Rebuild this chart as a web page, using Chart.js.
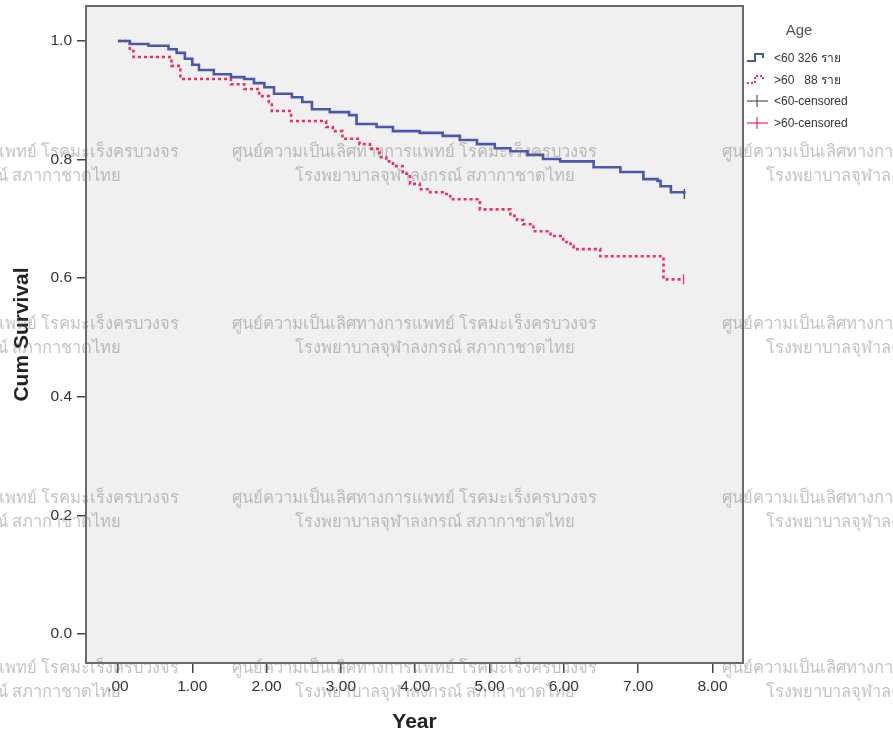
<!DOCTYPE html>
<html>
<head>
<meta charset="utf-8">
<script src="https://cdn.jsdelivr.net/npm/chart.js@4.4.1/dist/chart.umd.min.js"></script>
<style>
  html, body { margin: 0; padding: 0; background: #fff; }
  #wrap { position: relative; width: 893px; height: 737px; overflow: hidden; }
  #c { position: absolute; left: 0; top: 0; }
  .legend { position: absolute; left: 746px; top: 21px; font-family: "Liberation Sans", Arial, sans-serif; font-size: 12px; color: #333; }
  .legend .ttl { text-align: center; font-size: 15px; width: 102px; margin-left: 2px; margin-bottom: 8px; color: #555; }
  .legend .row { display: flex; align-items: center; height: 22px; white-space: pre; }
  .legend svg { margin-right: 2px; }
  .wm { position: absolute; font-family: "Noto Sans", "DejaVu Sans", sans-serif; font-size: 16.5px; color: rgba(110,110,110,.42); white-space: nowrap; pointer-events: none; }
</style>
</head>
<body>
<div id="wrap">
  <canvas id="c" width="893" height="737"></canvas>
  <div class="legend">
    <div class="ttl">Age</div>
    <div class="row"><svg width="26" height="14"><polyline points="1,11 9,11 9,4 17,4 17,8" fill="none" stroke="#4b56ad" stroke-width="2"/></svg>&lt;60 326 ราย</div>
    <div class="row"><svg width="26" height="14"><polyline points="1,11 9,11 9,4 17,4 17,8" fill="none" stroke="#ef2d5e" stroke-width="2" stroke-dasharray="2,2"/></svg>&gt;60   88 ราย</div>
    <div class="row"><svg width="26" height="14"><line x1="1" y1="7" x2="22" y2="7" stroke="#555" stroke-width="1.2"/><line x1="11" y1="1" x2="11" y2="13" stroke="#555" stroke-width="1.2"/></svg>&lt;60-censored</div>
    <div class="row"><svg width="26" height="14"><line x1="1" y1="7" x2="22" y2="7" stroke="#ef2d5e" stroke-width="1.2"/><line x1="11" y1="1" x2="11" y2="13" stroke="#ef2d5e" stroke-width="1.2"/></svg>&gt;60-censored</div>
  </div>
</div>
<script>
/* ===== Kaplan-Meier: Age ===== */

// <60 group (event time in years, survival after event)
const youngTime = [0, 0.16, 0.41, 0.68, 0.79, 0.90, 1.00, 1.09, 1.29, 1.52, 1.70, 1.83, 1.97, 2.10, 2.34, 2.48, 2.61, 2.85, 3.11, 3.21, 3.48, 3.70, 4.06, 4.37, 4.60, 4.83, 5.07, 5.28, 5.51, 5.72, 5.95, 6.40, 6.76, 7.07, 7.26, 7.30, 7.44, 7.62];
const youngSurv = [1.0, 0.995, 0.992, 0.986, 0.980, 0.970, 0.960, 0.951, 0.944, 0.939, 0.936, 0.929, 0.922, 0.911, 0.905, 0.897, 0.885, 0.880, 0.875, 0.860, 0.855, 0.848, 0.845, 0.840, 0.833, 0.826, 0.819, 0.814, 0.808, 0.801, 0.797, 0.787, 0.779, 0.767, 0.764, 0.755, 0.745, 0.742];

// >60 group
const oldTime = [0, 0.16, 0.21, 0.72, 0.84, 1.52, 1.70, 1.90, 2.03, 2.07, 2.33, 2.80, 2.89, 3.02, 3.25, 3.39, 3.52, 3.61, 3.70, 3.83, 3.93, 4.06, 4.20, 4.37, 4.47, 4.87, 5.28, 5.37, 5.45, 5.59, 5.82, 5.99, 6.09, 6.13, 6.49, 7.34, 7.61];
const oldSurv = [1.0, 0.983, 0.973, 0.958, 0.936, 0.927, 0.919, 0.907, 0.897, 0.882, 0.865, 0.855, 0.848, 0.835, 0.826, 0.818, 0.804, 0.797, 0.789, 0.776, 0.759, 0.750, 0.745, 0.742, 0.733, 0.716, 0.705, 0.698, 0.691, 0.679, 0.671, 0.661, 0.654, 0.649, 0.637, 0.598, 0.598];

// censored marks
const youngCensT = [7.62];
const youngCensS = [0.742];
const oldCensT = [7.61];
const oldCensS = [0.598];

const xTicks = [0, 1, 2, 3, 4, 5, 6, 7, 8];
const yTicks = [0, 0.2, 0.4, 0.6, 0.8, 1.0];

const BLUE = '#4b56ad';
const RED = '#ef2d5e';
const pts = (xs, ys) => xs.map((x, i) => ({ x, y: ys[i] }));

/* 背景と枠 */
const frame = {
  id: 'frame',
  beforeDraw(ch) {
    const a = ch.chartArea, c = ch.ctx;
    c.save();
    c.fillStyle = '#f0f0f0';
    c.fillRect(a.left, a.top, a.right - a.left, a.bottom - a.top);
    c.restore();
  },
  afterDatasetsDraw(ch) {
    const a = ch.chartArea, c = ch.ctx;
    c.save();
    c.strokeStyle = '#6a6a6a';
    c.lineWidth = 2;
    c.strokeRect(a.left, a.top, a.right - a.left, a.bottom - a.top);
    c.restore();
  },
};

const FAM = 'Liberation Sans, Arial, sans-serif';
const tickFont = { family: FAM, size: 15.5 };
const titleFont = { family: FAM, size: 21, weight: 'bold' };

new Chart(document.getElementById('c'), {
  type: 'line',
  data: {
    datasets: [
      { label: '<60 326 ราย', data: pts(youngTime, youngSurv), borderColor: BLUE, borderWidth: 2.6, stepped: 'before', pointRadius: 0, fill: false },
      { label: '>60  88 ราย', data: pts(oldTime, oldSurv), borderColor: RED, borderWidth: 2.6, borderDash: [3, 3], stepped: 'before', pointRadius: 0, fill: false },
      { label: '<60-censored', data: pts(youngCensT, youngCensS), showLine: false, pointStyle: 'line', rotation: 90, pointRadius: 5, borderColor: '#333', borderWidth: 1.2 },
      { label: '>60-censored', data: pts(oldCensT, oldCensS), showLine: false, pointStyle: 'line', rotation: 90, pointRadius: 5, borderColor: RED, borderWidth: 1.2 },
    ],
  },
  options: {
    responsive: false,
    animation: false,
    devicePixelRatio: 1,
    layout: { autoPadding: false, padding: { top: 6, right: 150, left: 0, bottom: 0 } },
    plugins: { legend: { display: false }, tooltip: { enabled: false } },
    scales: {
      x: {
        type: 'linear', min: -0.43, max: 8.41,
        afterBuildTicks: s => { s.ticks = xTicks.map(v => ({ value: v })); },
        afterFit: s => { s.height = 74; s.paddingLeft = 0; s.paddingRight = 0; },
        grid: { drawOnChartArea: false, tickLength: 10, tickColor: '#444', lineWidth: 1.5 },
        border: { display: false },
        ticks: { color: '#333', font: tickFont, padding: 4, maxRotation: 0, callback: v => v === 0 ? '.00' : v.toFixed(2) },
        title: { display: true, text: 'Year', color: '#222', font: titleFont, padding: { top: 0, bottom: 2 } },
      },
      y: {
        type: 'linear', min: -0.049, max: 1.059,
        afterBuildTicks: s => { s.ticks = yTicks.map(v => ({ value: v })); },
        afterFit: s => { s.width = 86; s.paddingTop = 0; s.paddingBottom = 0; },
        grid: { drawOnChartArea: false, tickLength: 9, tickColor: '#444', lineWidth: 1.5 },
        border: { display: false },
        ticks: { color: '#333', font: tickFont, padding: 5, callback: v => v.toFixed(1) },
        title: { display: true, text: 'Cum Survival', color: '#222', font: titleFont, padding: { top: 10, bottom: 4 } },
      },
    },
  },
  plugins: [frame],
});

/* 透かし文字 */
const wmL1 = 'ศูนย์ความเป็นเลิศทางการแพทย์ โรคมะเร็งครบวงจร';
const wmL2 = 'โรงพยาบาลจุฬาลงกรณ์ สภากาชาดไทย';
const wrap = document.getElementById('wrap');
[138, 310, 484, 654].forEach(top => {
  [[-186, -159], [232, 295], [722, 766]].forEach(([x1, x2]) => {
    const a = document.createElement('div');
    a.className = 'wm'; a.textContent = wmL1;
    a.style.left = x1 + 'px'; a.style.top = top + 'px';
    const b = document.createElement('div');
    b.className = 'wm'; b.textContent = wmL2;
    b.style.left = x2 + 'px'; b.style.top = (top + 24) + 'px';
    wrap.appendChild(a); wrap.appendChild(b);
  });
});
</script>
</body>
</html>
